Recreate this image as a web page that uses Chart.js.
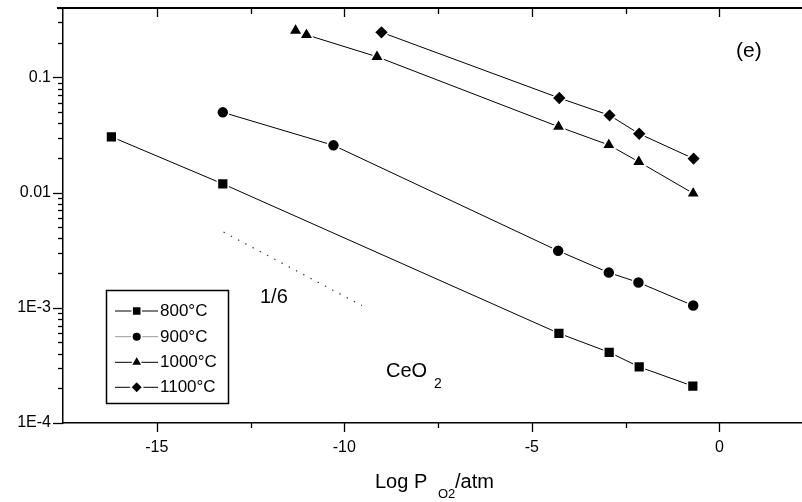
<!DOCTYPE html>
<html><head><meta charset="utf-8">
<script src="https://cdn.jsdelivr.net/npm/chart.js@4"></script>
<style>html,body{margin:0;padding:0;background:#fff;overflow:hidden}</style>
</head><body>
<canvas id="c" width="802" height="502" style="display:block;width:802px;height:502px"></canvas>
<script>
// ---- data ----
const seriesLabels = ['800°C', '900°C', '1000°C', '1100°C'];
const x800  = [-16.21, -13.24, -4.28, -2.94, -2.14, -0.71];
const y800  = [0.0305, 0.0119, 6.0e-4, 4.11e-4, 3.07e-4, 2.09e-4];
const x900  = [-13.24, -10.29, -4.30, -2.95, -2.16, -0.70];
const y900  = [0.0497, 0.0257, 3.12e-3, 2.02e-3, 1.66e-3, 1.045e-3];
const x1000 = [-11.30, -11.01, -9.13, -4.29, -2.95, -2.15, -0.70];
const y1000 = [0.255, 0.234, 0.151, 0.0373, 0.0259, 0.0185, 0.00984];
const x1100 = [-9.01, -4.27, -2.93, -2.14, -0.69];
const y1100 = [0.246, 0.0662, 0.0468, 0.0324, 0.0197];
const slopeX = [-13.22, -9.53];
const slopeY = [4.54e-3, 1.045e-3];
const xTickValues = [-15, -10, -5, 0];
const xMinorValues = [-12.5, -7.5, -2.5];
const yTickValues = [1e-4, 1e-3, 0.01, 0.1];
const yTickLabels = ['1E-4', '1E-3', '0.01', '0.1'];

const FONT = "'Liberation Sans', Arial, Helvetica, sans-serif";
const styles = [
  {pointStyle: 'rect', r: 7.6},
  {pointStyle: 'circle', r: 6.0},
  {pointStyle: 'triangle', r: 7.8},
  {pointStyle: 'rectRot', r: 7.2}
];
const xs = [x800, x900, x1000, x1100];
const ys = [y800, y900, y1000, y1100];

const datasets = xs.map((xa, s) => ({
  label: seriesLabels[s],
  data: xa.map((x, i) => ({x: x, y: ys[s][i]})),
  showLine: true,
  borderColor: '#000',
  borderWidth: 1,
  backgroundColor: '#000',
  pointStyle: styles[s].pointStyle,
  pointRadius: styles[s].r,
  pointHoverRadius: styles[s].r,
  pointBackgroundColor: '#000',
  pointBorderColor: '#fff',
  pointBorderWidth: 1.5
}));
datasets.push({
  label: 'slope',
  data: slopeX.map((x, i) => ({x: x, y: slopeY[i]})),
  showLine: true,
  borderColor: '#333',
  borderWidth: 1.2,
  borderDash: [1.4, 6.8],
  pointRadius: 0
});

function marker(ctx, style, r, x, y) {
  if (Chart.helpers && Chart.helpers.drawPoint) {
    ctx.save();
    ctx.fillStyle = '#000';
    ctx.strokeStyle = '#fff';
    ctx.lineWidth = 1.5;
    Chart.helpers.drawPoint(ctx, {pointStyle: style, radius: r, rotation: 0, borderWidth: 1.5}, x, y);
    ctx.restore();
  }
}

const deco = {
  id: 'deco',
  afterDraw(chart) {
    const ctx = chart.ctx, a = chart.chartArea;
    const sx = chart.scales.x, sy = chart.scales.y;
    ctx.save();
    ctx.strokeStyle = '#000';
    // top frame
    ctx.lineWidth = 2;
    ctx.beginPath(); ctx.moveTo(57, a.top); ctx.lineTo(a.right, a.top); ctx.stroke();
    // x ticks
    ctx.lineWidth = 1.3;
    xTickValues.forEach(v => {
      const p = Math.round(sx.getPixelForValue(v)) + 0.5;
      ctx.beginPath(); ctx.moveTo(p, a.bottom); ctx.lineTo(p, a.bottom + 9); ctx.stroke();
      ctx.beginPath(); ctx.moveTo(p, a.top); ctx.lineTo(p, a.top + 9); ctx.stroke();
    });
    xMinorValues.forEach(v => {
      const p = Math.round(sx.getPixelForValue(v)) + 0.5;
      ctx.beginPath(); ctx.moveTo(p, a.bottom); ctx.lineTo(p, a.bottom + 5); ctx.stroke();
      ctx.beginPath(); ctx.moveTo(p, a.top); ctx.lineTo(p, a.top + 6); ctx.stroke();
    });
    // y ticks
    yTickValues.forEach(v => {
      const p = Math.round(sy.getPixelForValue(v)) + 0.5;
      ctx.beginPath(); ctx.moveTo(a.left - 10, p); ctx.lineTo(a.left, p); ctx.stroke();
    });
    yTickValues.forEach(d => {
      for (let k = 2; k <= 9; k++) {
        const v = k * d;
        if (v > sy.max) break;
        const p = Math.round(sy.getPixelForValue(v)) + 0.5;
        ctx.beginPath(); ctx.moveTo(a.left - 5, p); ctx.lineTo(a.left, p); ctx.stroke();
      }
    });
    // texts
    ctx.fillStyle = '#000';
    ctx.textBaseline = 'alphabetic';
    ctx.textAlign = 'left';
    ctx.font = '21px ' + FONT;
    ctx.fillText('(e)', 736, 57);
    ctx.font = '20px ' + FONT;
    ctx.fillText('1/6', 260, 302.5);
    ctx.fillText('CeO', 386, 377);
    ctx.font = '14px ' + FONT;
    ctx.fillText('2', 434, 387.5);
    // axis title
    ctx.font = '20px ' + FONT;
    ctx.fillText('Log P', 375, 488);
    ctx.font = '13px ' + FONT;
    ctx.fillText('O2', 438, 498);
    ctx.font = '20px ' + FONT;
    ctx.fillText('/atm', 455, 488);
    // legend
    ctx.lineWidth = 1.5;
    ctx.strokeRect(106.5, 290.5, 122, 113);
    const ly = [311, 336.7, 362.3, 387.3];
    seriesLabels.forEach((lab, i) => {
      ctx.strokeStyle = i === 1 ? '#999' : '#000';
      ctx.lineWidth = 1;
      ctx.beginPath(); ctx.moveTo(115, ly[i]); ctx.lineTo(158, ly[i]); ctx.stroke();
      marker(ctx, styles[i].pointStyle, styles[i].r - 1.2, 136.7, ly[i]);
      ctx.fillStyle = '#000';
      ctx.font = '17px ' + FONT;
      ctx.textBaseline = 'middle';
      ctx.fillText(lab, 160, ly[i] + 0.5);
    });
    ctx.restore();
  }
};

function noPad(s) { s.paddingTop = 0; s.paddingBottom = 0; s.paddingLeft = 0; s.paddingRight = 0; }

new Chart(document.getElementById('c'), {
  type: 'scatter',
  data: {datasets: datasets},
  options: {
    responsive: false,
    animation: false,
    events: [],
    layout: {autoPadding: false, padding: {top: 8, right: 0, left: 0, bottom: 0}},
    plugins: {legend: {display: false}, tooltip: {enabled: false}},
    scales: {
      x: {
        type: 'linear', position: 'bottom', min: -17.5, max: 2.2,
        afterFit: s => { s.height = 79; noPad(s); },
        afterBuildTicks: s => { s.ticks = xTickValues.map(v => ({value: v})); },
        ticks: {color: '#000', font: {family: FONT, size: 16}, padding: 5, maxRotation: 0, autoSkip: false,
                callback: v => String(v)},
        grid: {display: true, drawOnChartArea: false, drawTicks: true, tickLength: 10, color: 'rgba(0,0,0,0)'},
        border: {display: true, color: '#000', width: 1.5}
      },
      y: {
        type: 'logarithmic', position: 'left', min: 1e-4, max: 0.4,
        afterFit: s => { s.width = 63; noPad(s); },
        afterBuildTicks: s => { s.ticks = yTickValues.map(v => ({value: v})); },
        ticks: {color: '#000', font: {family: FONT, size: 16}, padding: 2, autoSkip: false,
                callback: (v, i) => yTickLabels[i]},
        grid: {display: true, drawOnChartArea: false, drawTicks: true, tickLength: 10, color: 'rgba(0,0,0,0)'},
        border: {display: true, color: '#000', width: 1.5}
      }
    }
  },
  plugins: [deco]
});
</script>
</body></html>
